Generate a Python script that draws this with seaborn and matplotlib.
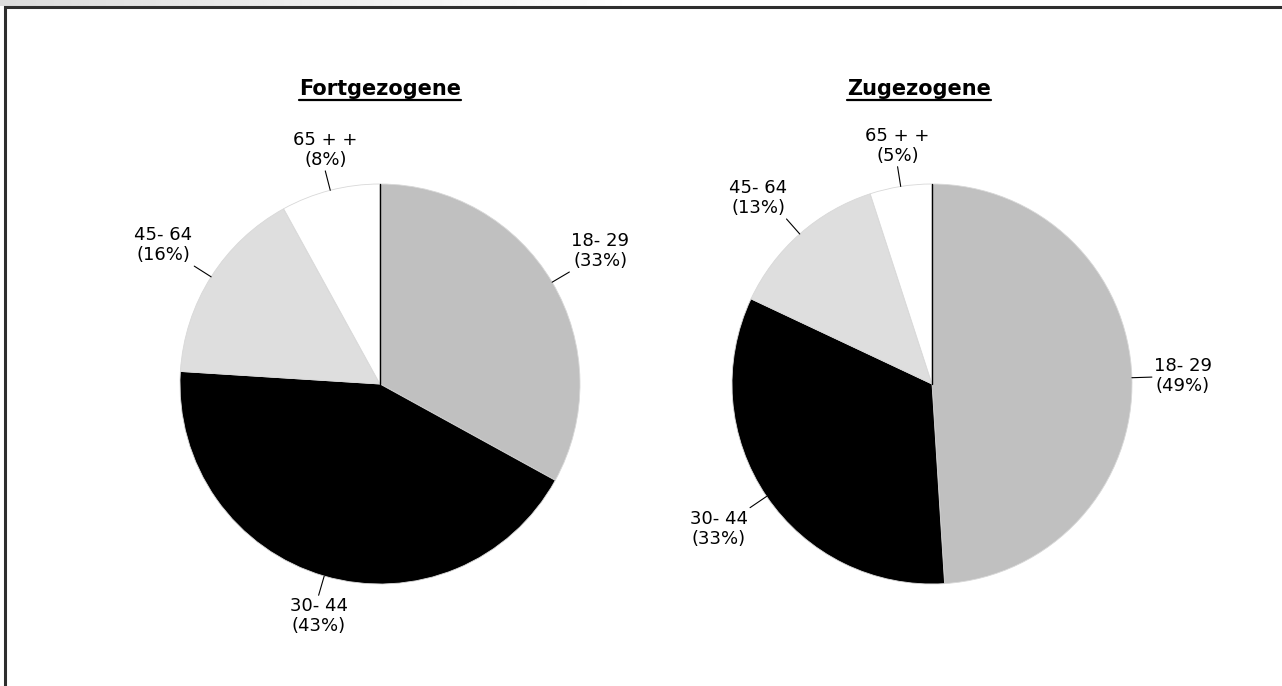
import numpy as np
import seaborn as sns
from matplotlib import pyplot as plt
from matplotlib.patches import Rectangle
from matplotlib.lines import Line2D

# data
age_groups = ['18- 29', '30- 44', '45- 64', '65 + +']
fortgezogene = [33, 43, 16, 8]
zugezogene = [49, 33, 13, 5]
titles = ['Fortgezogene', 'Zugezogene']

colors = ['#c0c0c0', '#000000', '#dedede', '#ffffff']
FONT = ['DejaVu Sans']

sns.set_theme(style='white')
plt.rcParams['font.family'] = FONT
plt.rcParams['text.color'] = 'black'

W, H = 1282, 686
fig = plt.figure(figsize=(W / 100, H / 100), dpi=100)
fig.patch.set_facecolor('white')

R_PX = 200  # radius of each pie in pixels
LEADER = 1.1


def drawPie(cx, values, title, title_dx):
    ax = fig.add_axes([(cx - 1.3 * R_PX) / W, 2 / H, 2.6 * R_PX / W, 3.1 * R_PX / H])

    wedges, _ = ax.pie(
        values,
        colors=colors,
        startangle=90,
        counterclock=False,
        wedgeprops={'edgecolor': '#d8d8d8', 'linewidth': 0.6},
        radius=1.0,
    )
    # pie() resets the limits, so set them afterwards
    ax.set_xlim(-1.3, 1.3)
    ax.set_ylim(-1.5, 1.6)
    ax.set_aspect('equal')
    ax.axis('off')

    labels = []
    for w, g, v in zip(wedges, age_groups, values):
        mid = np.deg2rad((w.theta1 + w.theta2) / 2)
        c, s = np.cos(mid), np.sin(mid)
        # leader line from the wedge edge
        ax.plot([c, LEADER * c], [s, LEADER * s], color='black', lw=0.8)
        t = ax.text(LEADER * c, LEADER * s, f'{g}\n({v}%)', ha='center', va='center',
                    fontsize=13, color='black', linespacing=1.15)
        labels.append((t, c, s))
    # dark radius at the start angle
    start = np.deg2rad(90)
    ax.plot([0, np.cos(start)], [0, np.sin(start)], color='black', lw=1.0)

    t = ax.text(title_dx, 1.475, title, ha='center', va='center',
                fontsize=15, fontweight='bold', color='black')
    return t, labels


t1, lab1 = drawPie(380, fortgezogene, titles[0], 0.0)
t2, lab2 = drawPie(932, zugezogene, titles[1], -0.065)

fig.canvas.draw()

# shift each label so that its box sits beside the end of its leader line
for t, c, s in lab1 + lab2:
    bb = t.get_window_extent()
    w = bb.width / R_PX
    h = bb.height / R_PX
    fx = np.sign(c) * np.clip((abs(c) - 0.3) * 2.5, 0, 1)
    fy = np.clip(s * 2.0, -1, 1)
    x, y = t.get_position()
    t.set_position((x + fx * (w / 2 + 0.01), y + fy * (h / 2 + 0.01)))

# underline the titles
for t in (t1, t2):
    bb = t.get_window_extent()
    y = (bb.y0 - 1) / H
    fig.add_artist(Line2D([bb.x0 / W, bb.x1 / W], [y, y], color='black', lw=1.6,
                          transform=fig.transFigure))

# frame around the chart area
fig.add_artist(Rectangle((5 / W, -0.1), 1.2, (1 - 7 / H) + 0.1, fill=False,
                         edgecolor='#2e2e2e', lw=2.2, transform=fig.transFigure))

# light grey strip above the frame
band = fig.add_axes([0, 1 - 6 / H, 0.5, 6 / H])
band.imshow(np.linspace(0.86, 1.0, 256)[None, :], cmap='gray', vmin=0, vmax=1,
            aspect='auto')
band.axis('off')

fig.savefig('out.png', dpi=100)
